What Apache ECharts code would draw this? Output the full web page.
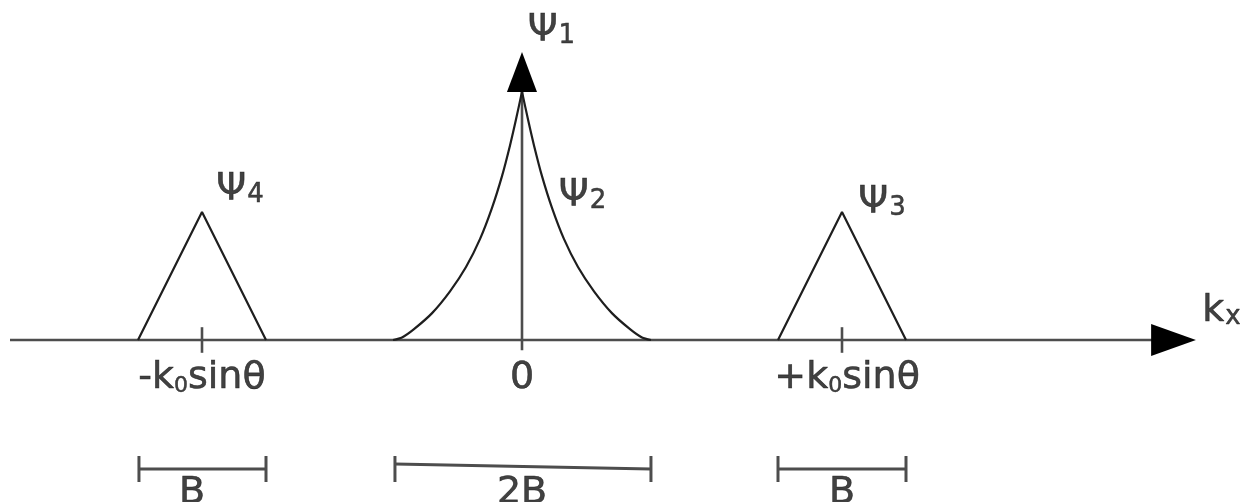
<!DOCTYPE html>
<html>
<head>
<meta charset="utf-8">
<script src="https://cdn.jsdelivr.net/npm/echarts@6/dist/echarts.min.js"></script>
<style>
html,body{margin:0;padding:0;background:#fff;}
#chart{width:1241px;height:502px;}
</style>
</head>
<body>
<div id="chart"></div>
<script>
// ---- data (x in units of k0·sinθ, y in units of triangle height) ----
const kxAxisLine = [[-1.6, 0], [1.97, 0]];
const kxArrowHead = [[1.966, 0.125], [2.106, 0], [1.966, -0.125]];
const psi1Stem = [[0, -0.08], [0, 1.94]];
const psi1ArrowHead = [[-0.047, 1.9375], [0, 2.25], [0.047, 1.9375]];
const tickLeft = [[-1, 0.1], [-1, -0.1]];
const tickRight = [[1, 0.1], [1, -0.1]];
const psi4Triangle = [[-1.2, 0], [-1, 1], [-0.8, 0]];
const psi3Triangle = [[0.8, 0], [1, 1], [1.2, 0]];
const psi2Left = [[-0.403, 0], [-0.375, 0.02], [-0.3375, 0.085], [-0.281, 0.21], [-0.225, 0.38], [-0.175, 0.57], [-0.131, 0.79], [-0.094, 1.03], [-0.0625, 1.28], [-0.0375, 1.52], [-0.019, 1.72], [0, 1.94]];
const psi2Right = [[0, 1.94], [0.019, 1.72], [0.0375, 1.52], [0.0625, 1.28], [0.094, 1.03], [0.131, 0.79], [0.175, 0.57], [0.225, 0.38], [0.281, 0.21], [0.3375, 0.085], [0.375, 0.02], [0.403, 0]];
// brackets: [xStart, xEnd, yStart, yEnd, yTickCentre]
const brackets = [[-1.197, -0.8, -1.008, -1.008, -1.008], [-0.397, 0.403, -0.969, -1.008, -1.008], [0.8, 1.2, -1.008, -1.008, -1.008]];
// labels
const labelTexts = ['Ψ{s|1}', 'Ψ{s|2}', 'Ψ{s|3}', 'Ψ{s|4}', 'k{s|x}', '-k{z|0}sinθ', '0', '+k{z|0}sinθ', 'B', '2B', 'B'];
const labelX = [0.092, 0.189, 1.125, -0.881, 2.186, -1.0, 0, 1.016, -1.031, 0, 1.0];
const labelY = [2.418, 1.133, 1.078, 1.176, 0.227, -0.297, -0.297, -0.297, -1.195, -1.195, -1.195];

const FONT = 'DejaVu Sans';
const INK = '#111111';
const GREY = '#4d4d4d';

function lineSeries(data, color, width) {
  return {
    type: 'line', data: data, showSymbol: false, silent: true, clip: false,
    lineStyle: { color: color, width: width }, animation: false, z: 2
  };
}
function smoothSeries(data) {
  const s = lineSeries(data, '#1e1e1e', 2.2);
  s.smooth = 0.25;
  return s;
}
function polygonSeries(points) {
  return {
    type: 'custom', silent: true, animation: false, clip: false, z: 3,
    data: [0],
    renderItem: function (params, api) {
      return {
        type: 'polygon',
        shape: { points: points.map(function (p) { return api.coord(p); }) },
        style: { fill: '#000' }
      };
    }
  };
}

const bracketSeries = {
  type: 'custom', silent: true, animation: false, clip: false, z: 2,
  data: brackets,
  renderItem: function (params, api) {
    const x1 = api.value(0), x2 = api.value(1), y1 = api.value(2), y2 = api.value(3), yt = api.value(4);
    const a = api.coord([x1, y1]), b = api.coord([x2, y2]);
    const ta = api.coord([x1, yt]), tb = api.coord([x2, yt]);
    const h = 13;
    const st = { stroke: GREY, lineWidth: 3, fill: null };
    return {
      type: 'group',
      children: [
        { type: 'line', shape: { x1: a[0], y1: a[1], x2: b[0], y2: b[1] }, style: st },
        { type: 'line', shape: { x1: ta[0], y1: ta[1] - h, x2: ta[0], y2: ta[1] + h }, style: st },
        { type: 'line', shape: { x1: tb[0], y1: tb[1] - h, x2: tb[0], y2: tb[1] + h }, style: st }
      ]
    };
  }
};

const labelSeries = {
  type: 'scatter', silent: true, animation: false, clip: false, z: 5,
  symbolSize: 0,
  data: labelTexts.map(function (t, i) { return { value: [labelX[i], labelY[i]], name: t }; }),
  label: {
    show: true, position: 'inside', formatter: function (p) { return p.name; },
    fontFamily: FONT, fontSize: 38, color: INK, align: 'center', verticalAlign: 'middle',
    textBorderColor: INK, textBorderWidth: 0.6,
    rich: {
      s: { fontFamily: FONT, fontSize: 26, color: INK, verticalAlign: 'bottom', padding: [0, 0, 0, 1], textBorderColor: INK, textBorderWidth: 0.5 },
      z: { fontFamily: FONT, fontSize: 22, color: INK, verticalAlign: 'bottom', textBorderColor: INK, textBorderWidth: 0.5 }
    }
  }
};

const chart = echarts.init(document.getElementById('chart'), null, { renderer: 'canvas' });
chart.setOption({
  backgroundColor: '#ffffff',
  animation: false,
  grid: { left: 10, right: 15, top: 0, bottom: 0, containLabel: false, outerBoundsMode: 'none' },
  xAxis: { type: 'value', min: -1.6, max: 2.2, show: false },
  yAxis: { type: 'value', min: -162 / 128, max: 340 / 128, show: false },
  series: [
    lineSeries(kxAxisLine, GREY, 2.6),
    lineSeries(psi1Stem, GREY, 2.6),
    lineSeries(tickLeft, GREY, 2.6),
    lineSeries(tickRight, GREY, 2.6),
    lineSeries(psi4Triangle, '#1e1e1e', 2.2),
    lineSeries(psi3Triangle, '#1e1e1e', 2.2),
    smoothSeries(psi2Left),
    smoothSeries(psi2Right),
    polygonSeries(kxArrowHead),
    polygonSeries(psi1ArrowHead),
    bracketSeries,
    labelSeries
  ]
});
</script>
</body>
</html>
